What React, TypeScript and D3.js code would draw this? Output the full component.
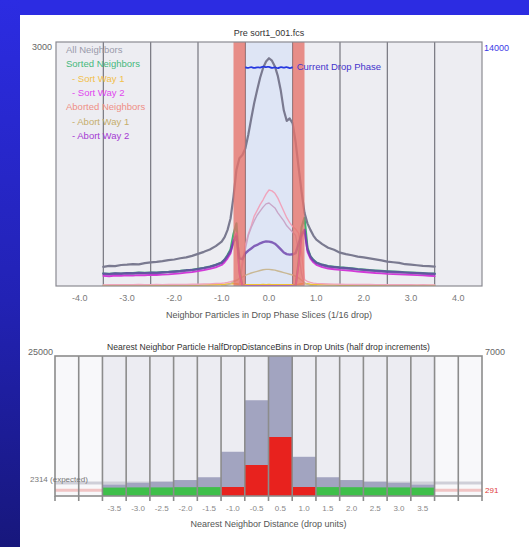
import React from 'react';
import * as d3 from 'd3';

// ---------- top chart data (drop units, 1/16 drop slices near the drop) ----------
const X_FULL = [
  -3.5, -3.375, -3.25, -3.125, -3, -2.875, -2.75, -2.625, -2.5, -2.375, -2.25, -2.125, -2, -1.875, -1.75, -1.625, -1.5, -1.375, -1.25, -1.125,
  -1, -0.9375, -0.875, -0.8125, -0.75, -0.6875, -0.625, -0.5625, -0.5, -0.4375, -0.375, -0.3125, -0.25, -0.1875, -0.125, -0.0625,
  0, 0.0625, 0.125, 0.1875, 0.25, 0.3125, 0.375, 0.4375, 0.5, 0.5625, 0.625, 0.6875, 0.75, 0.8125, 0.875, 0.9375, 1,
  1.125, 1.25, 1.375, 1.5, 1.625, 1.75, 1.875, 2, 2.125, 2.25, 2.375, 2.5, 2.625, 2.75, 2.875, 3, 3.125, 3.25, 3.375, 3.5,
];

const X_CENTER = [
  -1, -0.9375, -0.875, -0.8125, -0.75, -0.6875, -0.625, -0.5625, -0.5, -0.4375, -0.375, -0.3125, -0.25, -0.1875, -0.125, -0.0625,
  0, 0.0625, 0.125, 0.1875, 0.25, 0.3125, 0.375, 0.4375, 0.5, 0.5625, 0.625, 0.6875, 0.75, 0.8125, 0.875, 0.9375, 1,
];

const X_CORE = [
  -0.625, -0.5625, -0.5, -0.4375, -0.375, -0.3125, -0.25, -0.1875, -0.125, -0.0625, 0, 0.0625, 0.125, 0.1875, 0.25, 0.3125,
  0.375, 0.4375, 0.5, 0.5625, 0.625, 0.6875, 0.75,
];

const X_PHASE = [
  -0.5, -0.4375, -0.375, -0.3125, -0.25, -0.1875, -0.125, -0.0625,
  0, 0.0625, 0.125, 0.1875, 0.25, 0.3125, 0.375, 0.4375, 0.5,
];

const ALL_NEIGHBORS = [
  236, 248, 244, 258, 262, 270, 266, 281, 290, 296, 305, 318, 326, 341, 352, 370, 395, 420, 448, 490,
  545, 600, 690, 830, 1100, 1430, 1570, 1610, 1690, 1860, 2060, 2250, 2410, 2560, 2680, 2760,
  2800, 2770, 2700, 2580, 2400, 2160, 2030, 2060, 2000, 1770, 1460, 1160, 900, 770, 690, 620, 570,
  515, 470, 445, 410, 392, 378, 362, 352, 340, 328, 315, 300, 292, 284, 268, 262, 255, 248, 244, 238,
];

const SORTED_NEIGHBORS = [
  154, 150, 157, 154, 160, 158, 164, 162, 166, 164, 170, 174, 180, 186, 194, 200, 212, 224, 240, 260,
  290, 325, 380, 450, 640, 770, 200, 0, 0, 0, 0, 0, 0, 0, 0, 0,
  0, 0, 0, 0, 0, 0, 0, 0, 0, 0, 300, 720, 840, 470, 365, 320, 290,
  262, 244, 236, 228, 222, 216, 208, 202, 196, 190, 185, 180, 176, 173, 169, 165, 162, 158, 154, 151,
];

const SORT_WAY_1 = [
  6, 8, 7, 9, 8, 7, 9, 8, 10, 8, 9, 10, 9, 11, 10, 12, 11, 13, 14, 16,
  18, 20, 24, 28, 30, 26, 20, 16, 14, 14, 15, 16, 15, 16, 17, 16,
  17, 16, 15, 16, 15, 14, 15, 14, 14, 16, 20, 26, 30, 26, 22, 19, 17,
  15, 13, 12, 11, 10, 10, 9, 10, 9, 8, 9, 8, 8, 7, 8, 7, 7, 6, 7, 6,
];

const SORT_WAY_2 = [
  125, 120, 128, 126, 130, 128, 134, 132, 136, 135, 140, 144, 150, 156, 164, 170, 182, 195, 210, 230,
  258, 292, 340, 400, 560, 650, 150, 0, 0, 0, 0, 0, 0, 0, 0, 0,
  0, 0, 0, 0, 0, 0, 0, 0, 0, 0, 260, 600, 690, 420, 335, 290, 260,
  232, 215, 206, 198, 192, 186, 178, 172, 166, 160, 156, 150, 146, 143, 140, 136, 133, 130, 126, 122,
];

const ABORTED_NEIGHBORS = [
  14, 16, 15, 17, 16, 15, 18, 16, 17, 18, 17, 19, 18, 20, 19, 21, 22, 24, 26, 30,
  34, 38, 44, 52, 62, 70, 90, 300, 500, 640, 740, 860, 930, 1000, 1060, 1130,
  1180, 1170, 1140, 1080, 1000, 920, 840, 780, 730, 700, 650, 420, 80, 55, 44, 36, 32,
  28, 25, 23, 22, 20, 20, 19, 18, 18, 17, 17, 16, 16, 15, 16, 15, 14, 15, 14, 14,
];

const ABORTED_CORE = [
  20, 250, 450, 620, 720, 800, 870, 920, 970, 1010, 1020, 990, 960, 900, 850, 800, 740, 700, 660, 620, 420, 150, 20,
];

const ABORT_WAY_1 = [
  0, 5, 15, 30, 50, 70, 90, 110, 130, 145, 160, 170, 180, 190, 200, 205,
  205, 200, 195, 185, 175, 165, 155, 145, 135, 120, 100, 70, 40, 20, 8, 3, 0,
];

const ABORT_WAY_2 = [
  150, 146, 153, 150, 156, 154, 160, 158, 162, 160, 166, 170, 176, 182, 190, 196, 208, 220, 236, 256,
  285, 320, 370, 430, 540, 610, 340, 330, 400, 435, 462, 490, 505, 525, 540, 548,
  545, 538, 520, 488, 450, 412, 392, 386, 390, 405, 520, 640, 690, 450, 360, 315, 285,
  258, 240, 232, 224, 218, 212, 204, 198, 192, 186, 181, 176, 172, 169, 165, 161, 158, 154, 150, 147,
];

const DROP_PHASE = [
  12560, 12480, 12600, 12470, 12580, 12500, 12620, 12540, 12600, 12480, 12580, 12460, 12600, 12500, 12590, 12470, 12560,
];

const TOP_TICKS = ['-4.0', '-3.0', '-2.0', '-1.0', '0.0', '1.0', '2.0', '3.0', '4.0'];
const TOP_GRID = [-3.5, -2.5, -1.5, -0.5, 0.5, 1.5, 2.5, 3.5];
const DROP_BANDS = [[-0.75, -0.5], [0.5, 0.75]];

const LEGEND = [
  { label: 'All Neighbors', color: '#9a9aaa', sub: false },
  { label: 'Sorted Neighbors', color: '#45b97c', sub: false },
  { label: '- Sort Way 1', color: '#f2c04a', sub: true },
  { label: '- Sort Way 2', color: '#e046ee', sub: true },
  { label: 'Aborted Neighbors', color: '#ef8f86', sub: false },
  { label: '- Abort Way 1', color: '#c6ad6c', sub: true },
  { label: '- Abort Way 2', color: '#a53ad2', sub: true },
];

// ---------- bottom chart data: half-drop distance bins ----------
const BIN_STARTS = [-4.5, -4, -3.5, -3, -2.5, -2, -1.5, -1, -0.5, 0, 0.5, 1, 1.5, 2, 2.5, 3, 3.5, 4];
const BIN_LABELS = ['', '', '-3.5', '-3.0', '-2.5', '-2.0', '-1.5', '-1.0', '-0.5', '0.5', '1.0', '1.5', '2.0', '2.5', '3.0', '3.5', '', ''];
const NN_ALL = [0, 0, 2050, 2350, 2550, 2850, 3350, 7900, 17100, 26000, 7000, 3350, 2850, 2550, 2350, 2050, 0, 0];
const NN_SORTED = [0, 0, 420, 430, 430, 440, 445, 0, 0, 0, 0, 445, 440, 430, 430, 420, 0, 0];
const NN_ABORTED = [0, 0, 0, 0, 0, 0, 0, 450, 1550, 2950, 450, 0, 0, 0, 0, 0, 0, 0];
const EXPECTED_ALL = 2314;
const EXPECTED_ABORT = 291;

const FONT = '"Liberation Sans", Arial, sans-serif';

export default function App() {
  const W = 529;
  const H = 547;

  // top chart geometry
  const t = { left: 56, right: 482, top: 42, bottom: 286 };
  const x = d3.scaleLinear().domain([-4.5, 4.5]).range([t.left, t.right]);
  const yL = d3.scaleLinear().domain([0, 3000]).range([t.bottom, t.top]);
  const yR = d3.scaleLinear().domain([0, 14000]).range([t.bottom, t.top]);

  const path = (xs: number[], ys: number[], ys2: d3.ScaleLinear<number, number>, curve: d3.CurveFactory = d3.curveLinear) =>
    d3.line<number>().x((_, i) => x(xs[i])).y((d) => ys2(d)).curve(curve)(ys) || '';

  // bottom chart geometry
  const b = { left: 55, right: 482, top: 356, bottom: 496 };
  const xb = d3.scaleLinear().domain([-4.5, 4.5]).range([b.left, b.right]);
  const yb = d3.scaleLinear().domain([0, 25000]).range([b.bottom, b.top]);
  const ybR = d3.scaleLinear().domain([0, 7000]).range([b.bottom, b.top]);
  const clipTop = (v: number) => Math.max(v, b.top);

  const tickText = { fontFamily: FONT, fontSize: 9, fill: '#7a7a7a' } as const;

  return (
    <svg width={W} height={H} style={{ position: 'absolute', left: 0, top: 0, display: 'block' }}>
      <defs>
        <linearGradient id="leftBlue" x1="0" y1="0" x2="0" y2="1">
          <stop offset="0" stopColor="#2c2ce2" />
          <stop offset="0.55" stopColor="#2222b4" />
          <stop offset="1" stopColor="#17177c" />
        </linearGradient>
        <clipPath id="topClip">
          <rect x={t.left} y={t.top} width={t.right - t.left} height={t.bottom - t.top} />
        </clipPath>
      </defs>
      <rect x={0} y={0} width={W} height={H} fill="#ffffff" />
      <rect x={0} y={0} width={W} height={15} fill="#2c2ce2" />
      <rect x={0} y={0} width={20} height={H} fill="url(#leftBlue)" />

      {/* ================= TOP CHART ================= */}
      <text x={(t.left + t.right) / 2} y={36} textAnchor="middle" fontFamily={FONT} fontSize={9} fill="#333">
        Pre sort1_001.fcs
      </text>
      <rect x={t.left} y={t.top} width={t.right - t.left} height={t.bottom - t.top} fill="#ededf2" />
      <rect x={x(-0.5)} y={t.top} width={x(0.5) - x(-0.5)} height={t.bottom - t.top} fill="#dee5f5" />
      {TOP_GRID.map((g) => (
        <line key={g} x1={x(g)} x2={x(g)} y1={t.top} y2={t.bottom} stroke="#76767f" strokeWidth={1.2} />
      ))}

      <g clipPath="url(#topClip)" fill="none" strokeLinejoin="round" strokeLinecap="round">
        <path d={path(X_FULL, SORT_WAY_1, yL)} stroke="#f2c030" strokeWidth={1.6} />
        <path d={path(X_FULL, ABORTED_NEIGHBORS, yL)} stroke="#f0a4bc" strokeWidth={1.4} />
        <path d={path(X_CORE, ABORTED_CORE, yL)} stroke="#c9a6c8" strokeWidth={1.4} />
        <path d={path(X_CENTER, ABORT_WAY_1, yL)} stroke="#c9b894" strokeWidth={1.4} />
        <path d={path(X_FULL, SORTED_NEIGHBORS, yL)} stroke="#3cb371" strokeWidth={2.2} />
        <path d={path(X_FULL, SORT_WAY_2, yL)} stroke="#d23ad8" strokeWidth={1.8} />
        <path d={path(X_FULL, ABORT_WAY_2, yL)} stroke="#6a3eaa" strokeOpacity={0.8} strokeWidth={2.4} />
        <path d={path(X_FULL, ALL_NEIGHBORS, yL)} stroke="#7a7a90" strokeWidth={2.2} />
      </g>

      {DROP_BANDS.map(([a, c]) => (
        <rect key={a} x={x(a)} y={t.top} width={x(c) - x(a)} height={t.bottom - t.top} fill="#e6726a" fillOpacity={0.78} />
      ))}

      <path d={path(X_PHASE, DROP_PHASE, yR, d3.curveBasis)} fill="none" stroke="#2638e0" strokeWidth={1.8} />
      <text x={x(0.5) + 4} y={70} fontFamily={FONT} fontSize={9.5} fill="#4433cc">
        Current Drop Phase
      </text>

      <rect x={t.left} y={t.top} width={t.right - t.left} height={t.bottom - t.top} fill="none" stroke="#8a8a92" strokeWidth={1.2} />

      {LEGEND.map((l, i) => (
        <text key={l.label} x={l.sub ? 72 : 66} y={53 + i * 14.3} fontFamily={FONT} fontSize={9.5} fill={l.color}>
          {l.label}
        </text>
      ))}

      <text x={52} y={50} textAnchor="end" {...tickText} fill="#666">3000</text>
      <text x={484} y={51} fontFamily={FONT} fontSize={9} fill="#3a3ae6">14000</text>

      {TOP_TICKS.map((v) => (
        <text key={v} x={x(parseFloat(v))} y={301} textAnchor="middle" {...tickText}>
          {v}
        </text>
      ))}
      <text x={(t.left + t.right) / 2} y={318} textAnchor="middle" fontFamily={FONT} fontSize={9} fill="#555">
        Neighbor Particles in Drop Phase Slices (1/16 drop)
      </text>

      {/* ================= BOTTOM CHART ================= */}
      <text x={(b.left + b.right) / 2} y={350} textAnchor="middle" fontFamily={FONT} fontSize={8.6} fill="#333">
        Nearest Neighbor Particle HalfDropDistanceBins in Drop Units (half drop increments)
      </text>
      {BIN_STARTS.map((s, i) => (
        <rect
          key={'bg' + s}
          x={xb(s)}
          y={b.top}
          width={xb(s + 0.5) - xb(s)}
          height={b.bottom - b.top}
          fill={BIN_LABELS[i] ? '#ececf2' : '#f8f8fa'}
        />
      ))}
      <line x1={b.left} x2={b.right} y1={yb(EXPECTED_ALL)} y2={yb(EXPECTED_ALL)} stroke="#cfcfd8" strokeWidth={3} />
      <line x1={b.left} x2={b.right} y1={ybR(EXPECTED_ABORT)} y2={ybR(EXPECTED_ABORT)} stroke="#f1c4c4" strokeWidth={3} />
      {BIN_STARTS.map((s, i) =>
        NN_ALL[i] > 0 ? (
          <rect
            key={'all' + s}
            x={xb(s)}
            y={clipTop(yb(NN_ALL[i]))}
            width={xb(s + 0.5) - xb(s)}
            height={b.bottom - clipTop(yb(NN_ALL[i]))}
            fill="#a2a4c0"
          />
        ) : null
      )}
      {BIN_STARTS.map((s, i) =>
        NN_SORTED[i] > 0 ? (
          <rect key={'s' + s} x={xb(s)} y={ybR(NN_SORTED[i])} width={xb(s + 0.5) - xb(s)} height={b.bottom - ybR(NN_SORTED[i])} fill="#3fbf4a" />
        ) : null
      )}
      {BIN_STARTS.map((s, i) =>
        NN_ABORTED[i] > 0 ? (
          <rect key={'a' + s} x={xb(s)} y={ybR(NN_ABORTED[i])} width={xb(s + 0.5) - xb(s)} height={b.bottom - ybR(NN_ABORTED[i])} fill="#e8221e" />
        ) : null
      )}
      {BIN_STARTS.slice(1).map((s) => (
        <line key={'g' + s} x1={xb(s)} x2={xb(s)} y1={b.top} y2={b.bottom + 5} stroke="#8c8c8c" strokeWidth={1.6} />
      ))}
      <rect x={b.left} y={b.top} width={b.right - b.left} height={b.bottom - b.top} fill="none" stroke="#8c8c8c" strokeWidth={1.6} />
      <line x1={b.left} x2={b.left} y1={b.bottom} y2={b.bottom + 5} stroke="#8c8c8c" strokeWidth={1.6} />
      <line x1={b.right} x2={b.right} y1={b.bottom} y2={b.bottom + 5} stroke="#8c8c8c" strokeWidth={1.6} />

      <text x={53} y={355} textAnchor="end" fontFamily={FONT} fontSize={9} fill="#666">25000</text>
      <text x={485} y={355} fontFamily={FONT} fontSize={9} fill="#666">7000</text>
      <text x={30} y={482} fontFamily={FONT} fontSize={8} fill="#777">{`${EXPECTED_ALL} (expected)`}</text>
      <text x={485} y={493} fontFamily={FONT} fontSize={8} fill="#e03a3a">{EXPECTED_ABORT}</text>

      {BIN_STARTS.map((s, i) =>
        BIN_LABELS[i] ? (
          <text key={'l' + s} x={xb(s + 0.25)} y={511} textAnchor="middle" fontFamily={FONT} fontSize={8} fill="#888">
            {BIN_LABELS[i]}
          </text>
        ) : null
      )}
      <text x={(b.left + b.right) / 2} y={527} textAnchor="middle" fontFamily={FONT} fontSize={9} fill="#555">
        Nearest Neighbor Distance (drop units)
      </text>
    </svg>
  );
}
